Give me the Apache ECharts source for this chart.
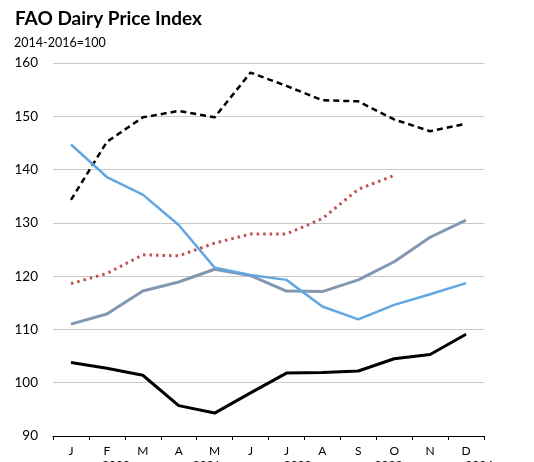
<!DOCTYPE html>
<html>
<head>
<meta charset="utf-8">
<script src="https://cdn.jsdelivr.net/npm/echarts@6/dist/echarts.min.js"></script>
<style>
  html, body { margin: 0; padding: 0; background: #fff; }
  #chart { width: 534px; height: 462px; }
</style>
</head>
<body>
<div id="chart"></div>
<script>
// FAO Dairy Price Index, месячные значения по годам
const months = ['J', 'F', 'M', 'A', 'M', 'J', 'J', 'A', 'S', 'O', 'N', 'D'];
const yTicks = [90, 100, 110, 120, 130, 140, 150, 160];

const s2020 = [103.8, 102.7, 101.4, 95.7, 94.3, 98.1, 101.8, 101.9, 102.2, 104.5, 105.3, 109.1];
const s2021 = [111.0, 112.9, 117.2, 118.9, 121.3, 120.1, 117.2, 117.1, 119.3, 122.7, 127.3, 130.5];
const s2022 = [134.3, 145.2, 149.8, 151.0, 149.8, 158.2, 155.7, 153.0, 152.8, 149.4, 147.2, 148.6];
const s2023 = [144.7, 138.6, 135.3, 129.6, 121.6, 120.2, 119.3, 114.3, 111.9, 114.6, 116.6, 118.7];
const s2024 = [118.6, 120.5, 124.0, 123.8, 126.2, 127.9, 127.9, 130.8, 136.3, 138.9, null, null];

const seriesNames = ['2020', '2021', '2022', '2023', '2024'];
const FONT = 'Lato, "Open Sans", Arial, sans-serif';

const chart = echarts.init(document.getElementById('chart'), null, { renderer: 'canvas' });

function line(name, data, color, width, type) {
  return {
    name: name,
    type: 'line',
    data: data,
    symbol: 'none',
    smooth: false,
    connectNulls: false,
    lineStyle: { color: color, width: width, type: type },
    itemStyle: { color: color }
  };
}

const option = {
  backgroundColor: '#ffffff',
  animation: false,
  title: [
    {
      text: 'FAO Dairy Price Index',
      left: 10, top: 4,
      textStyle: { fontFamily: FONT, fontSize: 19, fontWeight: 'bold', color: '#000' }
    },
    {
      text: '2014-2016=100',
      left: 9, top: 31,
      textStyle: { fontFamily: FONT, fontSize: 12.5, fontWeight: 'normal', color: '#000' }
    }
  ],
  // легенда почти целиком за нижним краем, как на исходной картинке
  legend: {
    data: seriesNames,
    left: 51,
    top: 454,
    itemGap: 17,
    itemWidth: 40,
    itemHeight: 2,
    textStyle: { fontFamily: FONT, fontSize: 12, color: '#000' }
  },
  grid: { left: 53, right: 50, top: 63, bottom: 26, containLabel: false },
  xAxis: {
    type: 'category',
    data: months,
    boundaryGap: true,
    axisLine: { show: true, lineStyle: { color: '#000', width: 1.2 } },
    axisTick: { show: true, length: 4, inside: false, alignWithLabel: false, lineStyle: { color: '#000' } },
    axisLabel: { color: '#000', fontFamily: FONT, fontSize: 12, margin: 9 },
    splitLine: { show: false }
  },
  yAxis: {
    type: 'value',
    min: yTicks[0],
    max: yTicks[yTicks.length - 1],
    interval: 10,
    axisLine: { show: false },
    axisTick: { show: false },
    axisLabel: { color: '#000', fontFamily: FONT, fontSize: 13.5, margin: 15 },
    splitLine: { show: true, lineStyle: { color: '#c9c9c9', width: 1.2 } }
  },
  series: [
    line(seriesNames[0], s2020, '#000000', 3, 'solid'),
    line(seriesNames[1], s2021, '#8497b0', 3, 'solid'),
    line(seriesNames[2], s2022, '#000000', 2.5, [6, 4]),
    line(seriesNames[3], s2023, '#62a7e2', 2.5, 'solid'),
    line(seriesNames[4], s2024, '#c0504d', 3, [2.5, 4])
  ]
};

chart.setOption(option);
</script>
</body>
</html>
